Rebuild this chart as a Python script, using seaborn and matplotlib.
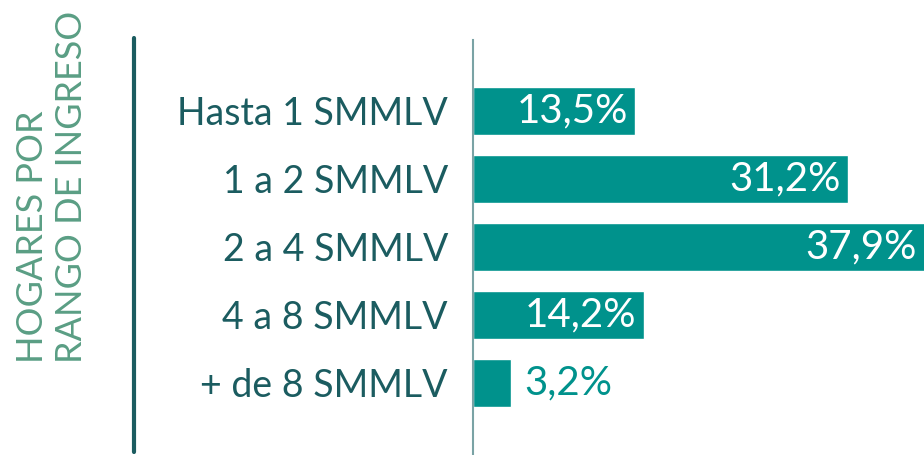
import matplotlib
matplotlib.use("Agg")
import matplotlib.pyplot as plt
import seaborn as sns
from matplotlib.lines import Line2D

categories = ["Hasta 1 SMMLV", "1 a 2 SMMLV", "2 a 4 SMMLV", "4 a 8 SMMLV", "+ de 8 SMMLV"]
values = [13.5, 31.2, 37.9, 14.2, 3.2]
value_labels = ["13,5%", "31,2%", "37,9%", "14,2%", "3,2%"]
title_lines = "HOGARES POR\nRANGO DE INGRESO"

BAR = "#00928c"
LABEL = "#1b5c60"
TITLE = "#5a9e84"

sns.set_style("white")
plt.rcParams["font.family"] = ["Lato", "DejaVu Sans"]

W, H = 924, 455
fig = plt.figure(figsize=(W / 100, H / 100), dpi=100)
ax = fig.add_axes([473 / W, 0, (W - 473) / W, (H - 40) / H])

sns.barplot(x=values, y=categories, orient="h", color=BAR, width=0.7,
            saturation=1, ax=ax)
ax.set_xlim(0, 37.5)
ax.set_ylim(5.06, -1.04)
for s in ["top", "right", "bottom"]:
    ax.spines[s].set_visible(False)
ax.spines["left"].set_color("#7aa3a5")
ax.spines["left"].set_linewidth(1.5)
ax.set_xticks([])
ax.set_xlabel("")
ax.set_ylabel("")
ax.tick_params(axis="y", length=0, pad=18, labelsize=27, labelcolor=LABEL)

for patch, v, lab in zip(ax.patches, values, value_labels):
    yc = patch.get_y() + patch.get_height() / 2
    w = patch.get_width()
    if v > 5:
        ax.text(min(w, 37.5) - 0.6, yc, lab, ha="right", va="center",
                color="white", fontsize=29)
    else:
        ax.text(w + 1.1, yc, lab, ha="left", va="center",
                color=BAR, fontsize=29)

fig.add_artist(Line2D([134 / W, 134 / W], [1 - 38 / H, 1 - 452 / H],
                      color=LABEL, linewidth=3))
fig.text(52 / W, 1 - 363 / H, title_lines, rotation=90, ha="center", va="bottom",
         color=TITLE, fontsize=26, linespacing=1.2,
         multialignment="left")

fig.savefig("out.png", dpi=100)
